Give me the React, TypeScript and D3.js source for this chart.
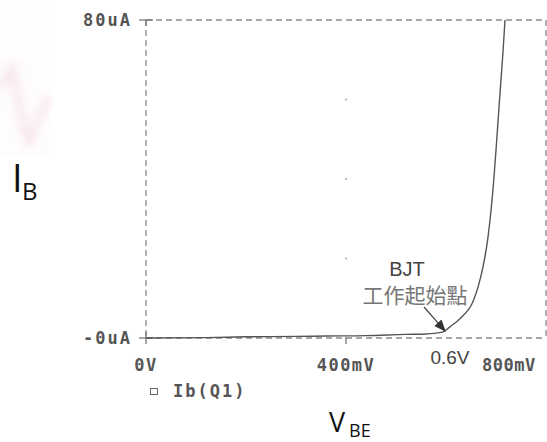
import React from "react";
import * as d3 from "d3";

const vbe = [0, 0.12, 0.2, 0.3, 0.36, 0.44, 0.52, 0.56, 0.59, 0.598, 0.606, 0.614, 0.624, 0.634, 0.644, 0.652, 0.658, 0.664, 0.674, 0.684, 0.69, 0.696, 0.701, 0.706, 0.71, 0.714, 0.718];
const ibUA = [0, 0.1, 0.3, 0.4, 0.5, 0.6, 0.9, 1.0, 1.4, 1.8, 2.6, 3.4, 4.4, 5.6, 7.0, 8.6, 10.5, 12.8, 17.9, 25.4, 32, 40.5, 49, 58, 65, 72, 80];

const yTickLabels = ["-0uA", "80uA"];
const yTickValues = [0, 80];
const xTickLabels = ["0V", "400mV", "800mV"];
const xTickValues = [0, 0.4, 0.8];
const gridDotsY = [20, 40, 60];
const seriesName = "Ib(Q1)";

export default function App() {
  const W = 547, H = 442;
  const x = d3.scaleLinear().domain([0, 0.8]).range([146, 546]);
  const y = d3.scaleLinear().domain([0, 80]).range([338, 20]);
  const pts: [number, number][] = vbe.map((v, i) => [v, ibUA[i]]);
  const line = d3.line<[number, number]>().x(d => x(d[0])).y(d => y(d[1])).curve(d3.curveMonotoneX);
  const mono = "'DejaVu Sans Mono', monospace";
  const sans = "'Liberation Sans', Arial, sans-serif";
  const gridColor = "#8a8a8a";
  const dash = "6 4";
  const x0 = x(0), x1 = x(0.8), y0 = y(0), y1 = y(80);
  const ax = x(0.598), ay = y(1.8);
  return (
    <svg width={W} height={H} style={{ position: "absolute", left: 0, top: 0, background: "#fff" }}>
      <defs>
        <filter id="blur"><feGaussianBlur stdDeviation="4" /></filter>
        <marker id="arr" viewBox="0 0 10 10" refX="9" refY="5" markerUnits="userSpaceOnUse" markerWidth="12" markerHeight="12" orient="auto">
          <path d="M0,1 L10,5 L0,9 z" fill="#333" />
        </marker>
      </defs>
      {/* faint watermark */}
      <rect x={0} y={0} width={50} height={155} fill="#fefcfc" />
      <path d="M0,88 L12,68 L24,128 L29,142 L42,110 L50,98" fill="none" stroke="#eab3c0" strokeWidth={7} opacity={0.3} filter="url(#blur)" />
      {/* frame */}
      <line x1={x0} x2={x1} y1={y1} y2={y1} stroke={gridColor} strokeWidth={1.3} strokeDasharray={dash} />
      <line x1={x0} x2={x1} y1={y0} y2={y0} stroke={gridColor} strokeWidth={1.3} strokeDasharray={dash} />
      <line x1={x1} x2={x1} y1={y1} y2={y0} stroke={gridColor} strokeWidth={1.3} strokeDasharray={dash} />
      <line x1={x0} x2={x0} y1={y1} y2={y0} stroke={gridColor} strokeWidth={1.3} strokeDasharray={dash} />
      {/* y ticks */}
      {yTickValues.map((v, i) => (
        <g key={"yt" + i}>
          <line x1={x0 - 7} x2={x0 + 7} y1={y(v)} y2={y(v)} stroke="#777" strokeWidth={1.3} />
          <line x1={x0} x2={x0} y1={y(v) - (v === 0 ? 6 : 0)} y2={y(v) + 6} stroke="#777" strokeWidth={1.3} />
          <text x={x0 - 14} y={y(v)} dy="0.36em" textAnchor="end" fontFamily={mono} fontWeight="bold" fontSize={17} letterSpacing={2} fill="#555">{yTickLabels[i]}</text>
        </g>
      ))}
      {/* x ticks */}
      {xTickValues.map((v, i) => (
        <g key={"xt" + i}>
          {v > 0 && v < 0.8 && <line x1={x(v)} x2={x(v)} y1={y0 - 1} y2={y0 + 6} stroke="#777" strokeWidth={1.3} />}
          <text x={v === 0.8 ? 482 : x(v)} y={365} dy="0.36em" textAnchor={v === 0.8 ? "start" : "middle"} fontFamily={mono} fontWeight="bold" fontSize={17} letterSpacing={v === 0.8 ? 0.5 : 1.5} fill="#555">{xTickLabels[i]}</text>
        </g>
      ))}
      {/* grid dots */}
      {gridDotsY.map(v => <rect key={"gd" + v} x={x(0.4) - 1} y={y(v) - 1} width={2} height={2} fill="#bbb" />)}
      {/* curve */}
      <path d={line(pts) || ""} fill="none" stroke="#555" strokeWidth={1.4} />
      {/* annotation */}
      <text x={407} y={276} fontFamily={sans} fontSize={20} fill="#444" textAnchor="middle">BJT</text>
      <text x={415} y={303} fontFamily="'Noto Sans CJK TC', sans-serif" fontSize={21} fill="#777" textAnchor="middle">工作起始點</text>
      <line x1={424} y1={307} x2={ax} y2={ay} stroke="#444" strokeWidth={1.2} markerEnd="url(#arr)" />
      <text x={450} y={357} dy="0.36em" textAnchor="middle" fontFamily={sans} fontSize={19} fill="#444">0.6V</text>
      {/* legend */}
      <rect x={150.5} y={388.5} width={7} height={6} fill="none" stroke="#666" strokeWidth={1} />
      <text x={173} y={391} dy="0.36em" fontFamily={mono} fontWeight="bold" fontSize={17} letterSpacing={2} fill="#555">{seriesName}</text>
      {/* axis titles */}
      <text x={12} y={192} fontFamily="'Open Sans', sans-serif" fontSize={38} fill="#111">I</text>
      <text x={22} y={200} fontFamily="'Open Sans', sans-serif" fontSize={24} fill="#111">B</text>
      <text x={329} y={432} fontFamily="'Open Sans', sans-serif" fontSize={27} fill="#111">V</text>
      <text x={349} y={437} fontFamily="'Open Sans', sans-serif" fontSize={18} fill="#111">BE</text>
    </svg>
  );
}
